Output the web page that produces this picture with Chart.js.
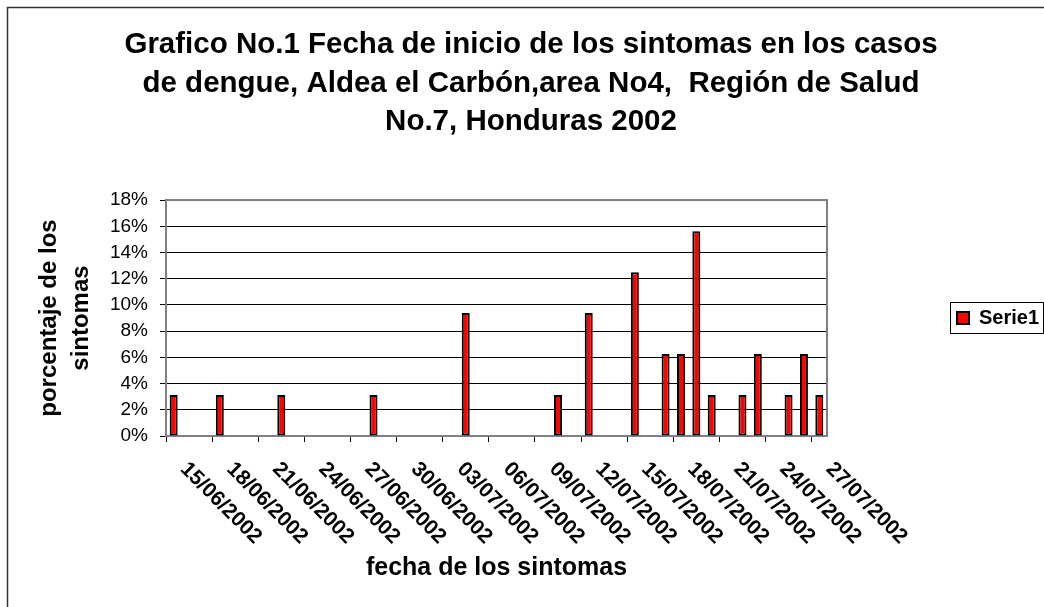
<!DOCTYPE html>
<html>
<head>
<meta charset="utf-8">
<script src="https://cdn.jsdelivr.net/npm/chart.js@4.4.1/dist/chart.umd.min.js"></script>
<style>
  html, body { margin: 0; padding: 0; background: #fff; }
  #wrap { width: 1044px; height: 607px; }
</style>
</head>
<body>
<div id="wrap"><canvas id="grafico" width="1044" height="607"></canvas></div>
<script>
// Fechas de inicio de los sintomas (un dia por categoria)
const fechas = [
    '15/06/2002', '16/06/2002', '17/06/2002', '18/06/2002', '19/06/2002', '20/06/2002', '21/06/2002',
    '22/06/2002', '23/06/2002', '24/06/2002', '25/06/2002', '26/06/2002', '27/06/2002', '28/06/2002',
    '29/06/2002', '30/06/2002', '01/07/2002', '02/07/2002', '03/07/2002', '04/07/2002', '05/07/2002',
    '06/07/2002', '07/07/2002', '08/07/2002', '09/07/2002', '10/07/2002', '11/07/2002', '12/07/2002',
    '13/07/2002', '14/07/2002', '15/07/2002', '16/07/2002', '17/07/2002', '18/07/2002', '19/07/2002',
    '20/07/2002', '21/07/2002', '22/07/2002', '23/07/2002', '24/07/2002', '25/07/2002', '26/07/2002',
    '27/07/2002'
];

// Porcentaje de casos por fecha (Serie1)
const porcentajes = [
    3.125, 0, 0, 3.125, 0, 0, 0,
    3.125, 0, 0, 0, 0, 0, 3.125,
    0, 0, 0, 0, 0, 9.375, 0,
    0, 0, 0, 0, 3.125, 0, 9.375,
    0, 0, 12.5, 0, 6.25, 6.25, 15.625,
    3.125, 0, 3.125, 6.25, 0, 3.125, 6.25,
    3.125
];

// Etiquetas que se muestran en el eje x (cada 3 dias)
const etiquetasEje = [
    '15/06/2002', '18/06/2002', '21/06/2002', '24/06/2002', '27/06/2002',
    '30/06/2002', '03/07/2002', '06/07/2002', '09/07/2002', '12/07/2002',
    '15/07/2002', '18/07/2002', '21/07/2002', '24/07/2002', '27/07/2002'
];

// Ticks del eje y
const ticksY = [0, 2, 4, 6, 8, 10, 12, 14, 16, 18];

const tituloGrafico = [
    'Grafico No.1 Fecha de inicio de los sintomas en los casos',
    'de dengue, Aldea el Carbón,area No4,  Región de Salud',
    'No.7, Honduras 2002'
];

const FONT = "'Liberation Sans', Arial, Helvetica, sans-serif";
Chart.defaults.font.family = FONT;
Chart.defaults.color = '#000';

// Fondo blanco y marco exterior
const marcoPlugin = {
    id: 'marco',
    beforeDraw(chart) {
        const c = chart.ctx;
        c.save();
        c.fillStyle = '#fff';
        c.fillRect(0, 0, chart.width, chart.height);
        c.strokeStyle = '#333';
        c.lineWidth = 1.5;
        c.beginPath();
        c.moveTo(7.5, chart.height);
        c.lineTo(7.5, 7.5);
        c.lineTo(chart.width, 7.5);
        c.stroke();
        c.restore();
    }
};

// Borde gris del area de trazado
const bordePlotPlugin = {
    id: 'bordePlot',
    beforeDatasetsDraw(chart) {
        const a = chart.chartArea;
        const c = chart.ctx;
        c.save();
        c.strokeStyle = '#808080';
        c.lineWidth = 2;
        c.strokeRect(a.left, a.top, a.right - a.left, a.bottom - a.top);
        c.restore();
    }
};

// Etiquetas del eje x giradas hacia abajo a la derecha
const etiquetasXPlugin = {
    id: 'etiquetasX',
    afterDraw(chart) {
        const x = chart.scales.x;
        const c = chart.ctx;
        c.save();
        c.font = 'bold 21px ' + FONT;
        c.fillStyle = '#000';
        c.textAlign = 'left';
        c.textBaseline = 'middle';
        etiquetasEje.forEach(lbl => {
            const i = fechas.indexOf(lbl);
            if (i < 0) return;
            const px = x.getPixelForTick(i);
            c.save();
            c.translate(px + 10, x.top + 30);
            c.rotate(Math.PI / 4);
            c.fillText(lbl, 0, 0);
            c.restore();
        });
        c.restore();
    }
};

// Recuadro de la leyenda
const cajaLeyendaPlugin = {
    id: 'cajaLeyenda',
    afterDraw(chart) {
        const lg = chart.legend;
        if (!lg || !lg.legendHitBoxes || !lg.legendHitBoxes.length) return;
        const hb = lg.legendHitBoxes[0];
        const cy = hb.top + hb.height / 2;
        const c = chart.ctx;
        c.save();
        c.strokeStyle = '#000';
        c.lineWidth = 1;
        c.strokeRect(Math.round(hb.left) - 6.5, Math.round(cy) - 15.5, 93, 31);
        c.restore();
    }
};

const ctx = document.getElementById('grafico').getContext('2d');

new Chart(ctx, {
    type: 'bar',
    data: {
        labels: fechas,
        datasets: [{
            label: 'Serie1',
            data: porcentajes,
            backgroundColor: '#ff0000',
            borderColor: '#000',
            borderWidth: 2,
            borderSkipped: false,
            barPercentage: 0.52,
            categoryPercentage: 1
        }]
    },
    options: {
        responsive: false,
        animation: false,
        layout: { padding: { left: 18, right: 0, top: 0, bottom: 0 } },
        scales: {
            x: {
                offset: true,
                afterFit: scale => { scale.height = 171; },
                grid: {
                    offset: true,
                    drawOnChartArea: false,
                    drawTicks: true,
                    tickLength: 6,
                    tickColor: c => (c.index % 3 === 0 ? '#000' : 'rgba(0,0,0,0)')
                },
                border: { color: '#808080', width: 2 },
                ticks: { display: false },
                title: {
                    display: true,
                    text: 'fecha de los sintomas',
                    font: { size: 25, weight: 'bold', lineHeight: 1.2 },
                    padding: { top: 0, bottom: 24 }
                }
            },
            y: {
                min: 0,
                max: 18,
                afterFit: scale => { scale.width = 148; },
                afterBuildTicks: scale => { scale.ticks = ticksY.map(v => ({ value: v })); },
                grid: {
                    color: '#000',
                    lineWidth: 1,
                    tickLength: 6,
                    tickColor: '#000'
                },
                border: { color: '#808080', width: 2 },
                ticks: {
                    padding: 12,
                    font: { size: 19 },
                    callback: v => v + '%'
                },
                title: {
                    display: true,
                    text: ['porcentaje de los', 'sintomas'],
                    font: { size: 24, weight: 'bold', lineHeight: 1.32 },
                    padding: { top: 16, bottom: 0 }
                }
            }
        },
        plugins: {
            title: {
                display: true,
                text: tituloGrafico,
                font: { size: 29.5, weight: 'bold', lineHeight: 1.3 },
                padding: { top: 26, bottom: 59 }
            },
            legend: {
                display: true,
                position: 'right',
                fullSize: false,
                maxWidth: 217,
                labels: {
                    padding: 130,
                    boxWidth: 12,
                    boxHeight: 12,
                    font: { size: 20, weight: 'bold' }
                }
            },
            tooltip: { enabled: false }
        }
    },
    plugins: [marcoPlugin, bordePlotPlugin, etiquetasXPlugin, cajaLeyendaPlugin]
});
</script>
</body>
</html>
